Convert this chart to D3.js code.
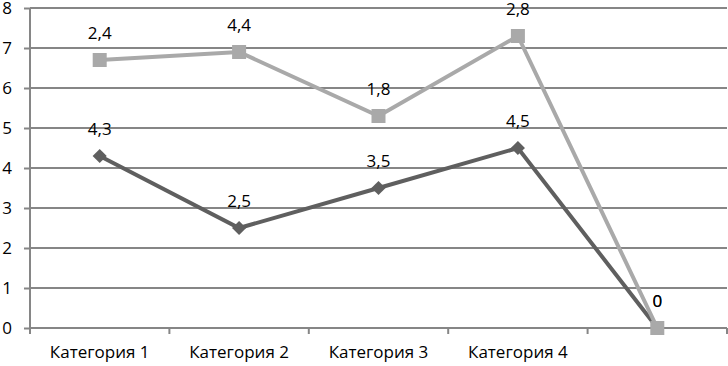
<!DOCTYPE html>
<html><head><meta charset="utf-8">
<script src="https://cdn.jsdelivr.net/npm/d3@7"></script>
<style>body{margin:0;background:#fff}svg{display:block}text{font-family:"Open Sans",sans-serif;font-size:17px;fill:#000}</style>
</head><body>
<svg id="c" width="728" height="366"></svg>
<script>
const categories = ["Категория 1","Категория 2","Категория 3","Категория 4",""];
const series1 = [4.3, 2.5, 3.5, 4.5, 0];
const series2 = [2.4, 4.4, 1.8, 2.8, 0];
const yTicks = [0,1,2,3,4,5,6,7,8];

const FONT = "'Open Sans',sans-serif";
const FS = "17px";
const svg = d3.select("#c");
const x = d3.scaleBand().domain(d3.range(categories.length)).range([30, 727]);
const y = d3.scaleLinear().domain([0, 8]).range([328, 8]);
const grid = "#868686";

// gridlines
svg.append("g").selectAll("line").data(yTicks.filter(d=>d>0)).join("line")
  .attr("x1", 30).attr("x2", 727).attr("y1", d=>y(d)).attr("y2", d=>y(d))
  .attr("stroke", grid).attr("stroke-width", 2);

// y axis
const ya = svg.append("g").attr("transform","translate(30,0)")
  .call(d3.axisLeft(y).tickValues(yTicks).tickSize(6).tickPadding(12).tickFormat(d3.format("d")));
ya.select(".domain").attr("stroke", grid).attr("stroke-width", 2).attr("d","M0,8V328");
ya.selectAll(".tick line").attr("stroke", grid).attr("stroke-width", 2);
ya.selectAll("text").style("font-size",FS).style("font-family",FONT).attr("fill","#000");

// x axis
const xa = svg.append("g").attr("transform","translate(0,328)")
  .call(d3.axisBottom(x).tickFormat(i=>categories[i]).tickSize(0).tickPadding(18));
xa.select(".domain").attr("stroke", grid).attr("stroke-width", 2).attr("d","M30,0H727");
xa.selectAll("text").style("font-size",FS).style("font-family",FONT).attr("fill","#000");
const bounds = d3.range(categories.length+1).map(i => i < categories.length ? x(i) : x.range()[1]);
svg.append("g").selectAll("line").data(bounds).join("line")
  .attr("x1", d=>d).attr("x2", d=>d).attr("y1", 328).attr("y2", 334)
  .attr("stroke", grid).attr("stroke-width", 2);

const cx = i => x(i) + x.bandwidth()/2;
const stacked2 = series2.map((v,i)=>v + series1[i]);

const line = d3.line().x((d,i)=>cx(i)).y(d=>y(d));

// series 1 (dark)
svg.append("path").datum(series1).attr("d", line).attr("fill","none").attr("stroke","#5f5f5f").attr("stroke-width",4);
svg.append("g").selectAll("path").data(series1).join("path")
  .attr("d", d3.symbol().type(d3.symbolSquare).size(100))
  .attr("transform",(d,i)=>`translate(${cx(i)},${y(d)}) rotate(45)`)
  .attr("fill","#5f5f5f");

// series 2 (light, stacked)
svg.append("path").datum(stacked2).attr("d", line).attr("fill","none").attr("stroke","#a9a9a9").attr("stroke-width",4);
svg.append("g").selectAll("rect").data(stacked2).join("rect")
  .attr("x",(d,i)=>cx(i)-7).attr("y",d=>y(d)-7).attr("width",14).attr("height",14)
  .attr("fill","#a9a9a9");

// labels
const fmt = v => String(v).replace(".", ",");
svg.append("g").selectAll("text").data(series1).join("text")
  .attr("x",(d,i)=>cx(i)).attr("y",d=>y(d)-21).attr("text-anchor","middle").text(d=>fmt(d));
svg.append("g").selectAll("text").data(series2).join("text")
  .attr("x",(d,i)=>cx(i)).attr("y",(d,i)=>y(stacked2[i])-21).attr("text-anchor","middle").text(d=>fmt(d));
</script>
</body></html>
